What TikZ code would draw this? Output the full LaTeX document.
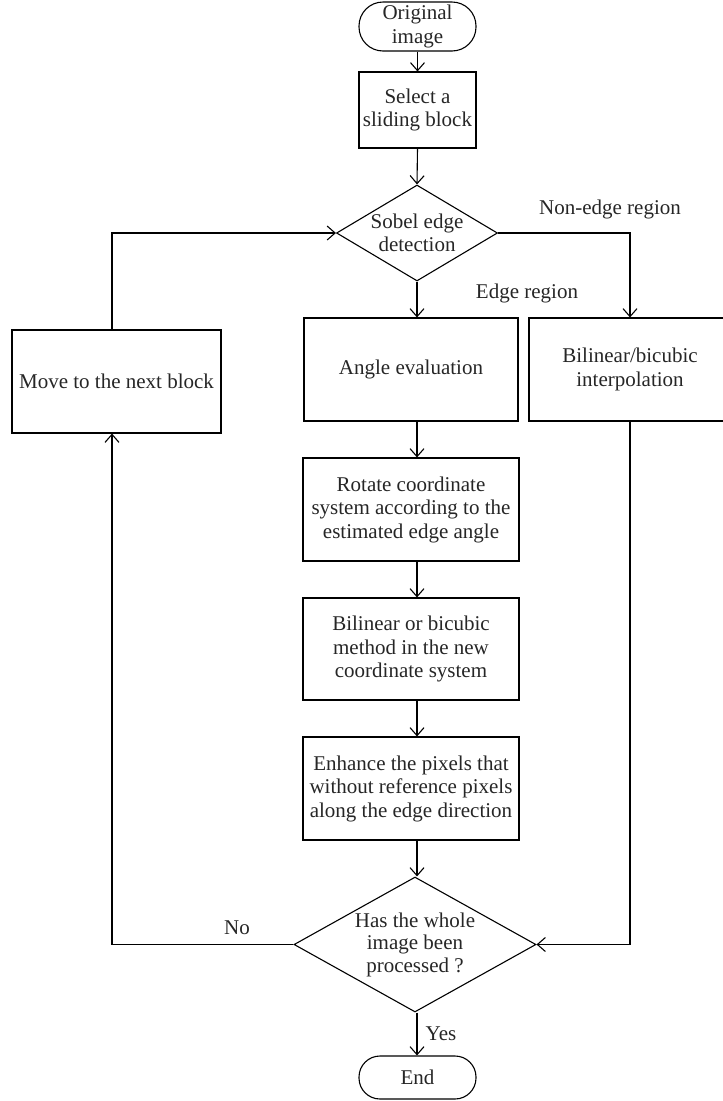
\documentclass[tikz,border=0pt]{standalone}
\usepackage{fontspec}
\setmainfont{Liberation Serif}
\usetikzlibrary{arrows.meta,shapes.geometric}
\begin{document}
\begin{tikzpicture}[x=1pt,y=-1pt,
  every node/.style={font=\fontsize{21}{23.5}\selectfont, text=black!85},
  box/.style={draw=black, rectangle, inner sep=0pt, align=center, line width=1.1pt},
  dia/.style={draw=black, diamond, inner sep=0pt, line width=1.1pt},
  lab/.style={inner sep=0pt, align=center},
  dlab/.style={lab, font=\fontsize{21}{22.5}\selectfont},
  arr/.style={draw=black, line width=1.1pt, -{Straight Barb[length=8pt,width=14pt]}}]
\useasboundingbox (0,0) rectangle (723,1101);
% nodes
\node[box, rounded corners=24pt, minimum width=117pt, minimum height=49pt] (start) at (417.5,26.5) {Original\\image};
\node[box, minimum width=117pt, minimum height=76pt] (select) at (417.5,110) {Select a\\sliding block};
\node[dia, minimum width=161pt, minimum height=96pt, label={[dlab]center:{Sobel edge\\detection}}] (sobel) at (417,233) {};
\node[box, minimum width=214pt, minimum height=103pt] (angle) at (411,369.5) {Angle evaluation};
\node[box, minimum width=202pt, minimum height=103pt] (bilin) at (630,369.5) {Bilinear/bicubic\\interpolation};
\node[box, minimum width=209pt, minimum height=103pt] (move) at (116.5,381.5) {Move to the next block};
\node[box, minimum width=216pt, minimum height=103pt] (rotate) at (411,509.5) {Rotate coordinate\\system according to the\\estimated edge angle};
\node[box, minimum width=216pt, minimum height=102pt] (bimeth) at (411,649) {Bilinear or bicubic\\method in the new\\coordinate system};
\node[box, minimum width=216pt, minimum height=103pt] (enh) at (411,788.5) {Enhance the pixels that\\without reference pixels\\along the edge direction};
\node[dia, minimum width=242pt, minimum height=135pt, label={[dlab]center:{Has the whole\\image been\\processed ?}}] (check) at (415,944.5) {};
\node[box, rounded corners=21pt, minimum width=117pt, minimum height=43pt] (end) at (417.5,1077.5) {End};
% labels
\node[lab] (nonedge) at (610,209) {Non-edge region};
\node[lab] (edgelab) at (527,293) {Edge region};
\node[lab] (no) at (237,928) {No};
\node[lab] (yes) at (441,1034) {Yes};
\coordinate (lx) at (112,233);
% connectors
\draw[arr] (start.south) -- (select.north);
\draw[arr] (select.south) -- (sobel.north);
\draw[arr] (sobel.east) -| (bilin.north);
\draw[arr] (sobel.south) -- (sobel.south |- angle.north);
\draw[arr] (angle.south -| sobel.south) -- (rotate.north -| sobel.south);
\draw[arr] (rotate.south -| sobel.south) -- (bimeth.north -| sobel.south);
\draw[arr] (bimeth.south -| sobel.south) -- (enh.north -| sobel.south);
\draw[arr] (enh.south -| sobel.south) -- (check.north -| sobel.south);
\draw[arr] (bilin.south) |- (check.east);
\draw[arr] (check.west) -| (move.south -| lx);
\draw[arr] (move.north -| lx) |- (sobel.west);
\draw[arr] (check.south -| sobel.south) -- (end.north -| sobel.south);
\end{tikzpicture}
\end{document}
